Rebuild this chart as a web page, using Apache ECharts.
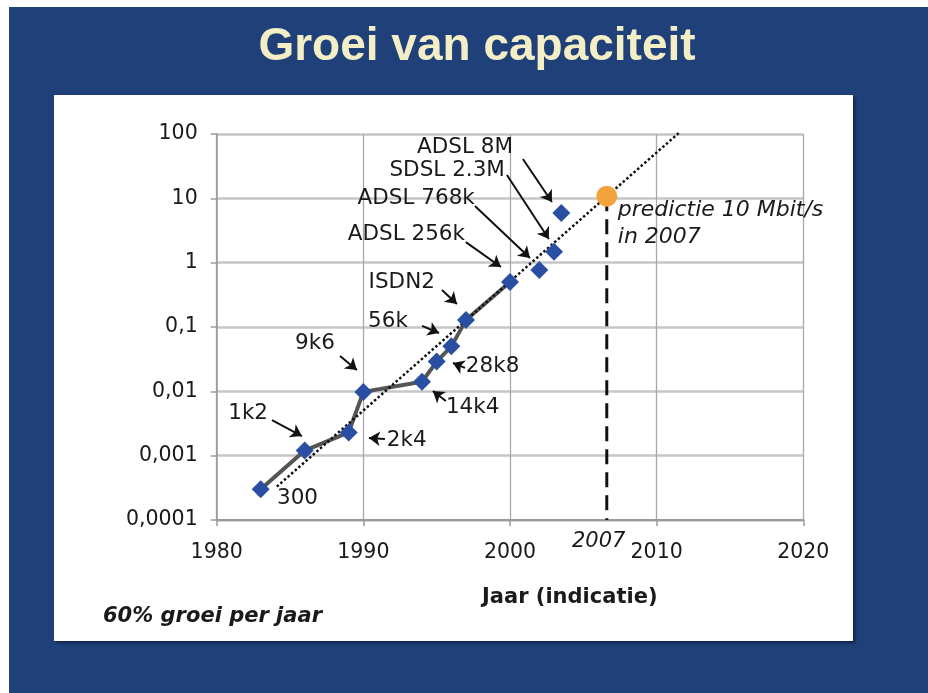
<!DOCTYPE html>
<html>
<head>
<meta charset="utf-8">
<script src="https://cdn.jsdelivr.net/npm/echarts@6/dist/echarts.min.js"></script>
<style>
  html, body { margin: 0; padding: 0; background: #fff; }
  #slide { position: absolute; left: 9px; top: 7px; width: 919px; height: 686px; background: #1f4079; }
  #panel { position: absolute; left: 54px; top: 95px; width: 799px; height: 546px; background: #fff;
           box-shadow: 2px 2px 3px rgba(0,0,0,0.45); }
  #chart { position: absolute; left: 0; top: 0; width: 928px; height: 693px; }
</style>
</head>
<body>
<div id="slide"></div>
<div id="panel"></div>
<div id="chart"></div>
<script>
// modemsnelheden in Mbit/s per jaar
const years  = [1983, 1986, 1989, 1990, 1994, 1995, 1996, 1997, 2000, 2002, 2003, 2003.5];
const speeds = [0.0003, 0.0012, 0.0023, 0.0098, 0.0141, 0.029, 0.05, 0.128, 0.5, 0.77, 1.48, 5.9];
const lastLinkedYear = 2000; // doorgetrokken lijn loopt tot hier

// 60% groei per jaar: begin- en eindpunt van de stippellijn
const trendYears  = [1984.1, 2011.6];
const trendSpeeds = [0.00033, 108];

const predictionYear  = 2006.6;
const predictionSpeed = 10.8;

const yTickLabels = ['0,0001', '0,001', '0,01', '0,1', '1', '10', '100'];

// tekstjes bij de punten: [jaar, snelheid, tekst, kant]
const notes = [
  [2000.2, 62.8, 'ADSL 8M', 'L'],
  [1999.65, 27.6, 'SDSL 2.3M', 'L'],
  [1997.6, 10.1, 'ADSL 768k', 'L'],
  [1996.93, 2.79, 'ADSL 256k', 'L'],
  [1994.88, 0.501, 'ISDN2', 'L'],
  [1993.04, 0.124, '56k', 'L'],
  [1988.06, 0.0564, '9k6', 'L'],
  [1996.99, 0.0248, '28k8', 'R'],
  [1995.63, 0.00571, '14k4', 'R'],
  [1991.6, 0.00175, '2k4', 'R'],
  [1983.5, 0.0046, '1k2', 'L'],
  [1984.11, 0.00022, '300', 'R']
];
const predictionNotes = [
  [2007.35, 6.59, 'predictie 10 Mbit/s'],
  [2007.35, 2.51, 'in 2007']
];

// pijltjes: [van jaar, van snelheid, naar jaar, naar snelheid]
const arrows = [
  [2000.88, 40.9, 2002.86, 8.77],
  [1999.79, 23.1, 2002.65, 2.33],
  [1997.61, 7.6, 2001.36, 1.18],
  [1996.99, 2.09, 1999.38, 0.857],
  [1995.36, 0.376, 1996.38, 0.228],
  [1994.0, 0.104, 1995.16, 0.0807],
  [1988.41, 0.0354, 1989.56, 0.0215],
  [1996.93, 0.0231, 1996.11, 0.0276],
  [1995.63, 0.00708, 1994.74, 0.0101],
  [1991.47, 0.00181, 1990.38, 0.00188],
  [1983.77, 0.00358, 1985.81, 0.00202]
];

const FONT = '"DejaVu Sans", sans-serif';
const INK = '#1a1a1a';

const points = years.map((y, i) => [y, speeds[i]]);
const linked = points.filter(p => p[0] <= lastLinkedYear);

const chart = echarts.init(document.getElementById('chart'), null, { renderer: 'canvas' });

const option = {
  backgroundColor: 'transparent',
  animation: false,
  grid: { left: 216.7, right: 124.7, top: 134, bottom: 173, outerBoundsMode: 'none' },
  xAxis: {
    type: 'value', min: 1980, max: 2020, interval: 10,
    axisLine: { show: true, lineStyle: { color: '#9a9a9a', width: 2 } },
    axisTick: { show: true, length: 6, lineStyle: { color: '#9a9a9a', width: 1.5 } },
    axisLabel: { margin: 22, color: INK, fontFamily: FONT, fontSize: 20.5, formatter: v => String(v) },
    splitLine: { show: true, lineStyle: { color: '#a8a8a8', width: 1.3 } }
  },
  yAxis: {
    type: 'log', logBase: 10, min: 0.0001, max: 100,
    axisLine: { show: true, lineStyle: { color: '#9a9a9a', width: 1.5 } },
    axisTick: { show: true, length: 6, lineStyle: { color: '#9a9a9a', width: 1.5 } },
    axisLabel: {
      margin: 19, color: INK, fontFamily: FONT, fontSize: 20.5,
      formatter: v => yTickLabels[Math.round(Math.log10(v)) + 4]
    },
    splitLine: { show: true, lineStyle: { color: '#c6c6c6', width: 2.5 } }
  },
  series: [
    {
      type: 'line', data: linked, symbol: 'none', silent: true, z: 2,
      lineStyle: { color: '#555', width: 4 }
    },
    {
      type: 'line', data: trendYears.map((y, i) => [y, trendSpeeds[i]]), symbol: 'none',
      silent: true, clip: false, z: 3,
      lineStyle: { color: '#111', width: 2.5, type: [2.5, 2.3] }
    },
    {
      type: 'line', data: [[predictionYear, predictionSpeed], [predictionYear, 0.0001]],
      symbol: 'none', silent: true, z: 3,
      lineStyle: { color: '#111', width: 3, type: [15, 8] }
    },
    {
      type: 'lines', coordinateSystem: 'cartesian2d', silent: true, z: 4,
      symbol: ['none', 'arrow'], symbolSize: 11,
      lineStyle: { color: '#111', width: 2, opacity: 1, curveness: 0 },
      data: arrows.map(a => ({ coords: [[a[0], a[1]], [a[2], a[3]]] }))
    },
    {
      type: 'scatter', data: points, symbol: 'diamond', symbolSize: 18, silent: true, z: 5,
      itemStyle: { color: '#2a4fa2', opacity: 1 }
    },
    {
      type: 'scatter', data: [[predictionYear, predictionSpeed]], symbol: 'circle', symbolSize: 21,
      silent: true, z: 5, itemStyle: { color: '#f2a33c', opacity: 1 }
    },
    {
      type: 'scatter', symbolSize: 0, silent: true, z: 6, itemStyle: { opacity: 1 },
      label: { show: true, distance: 0, color: INK, opacity: 1, fontFamily: FONT, fontSize: 21.5, formatter: p => p.name },
      data: notes.map(n => ({ name: n[2], value: [n[0], n[1]], label: { position: n[3] === 'L' ? 'left' : 'right' } }))
    },
    {
      type: 'scatter', symbolSize: 0, silent: true, z: 6, itemStyle: { opacity: 1 },
      label: { show: true, position: 'right', distance: 0, color: INK, opacity: 1, fontFamily: FONT,
               fontSize: 22, fontStyle: 'italic', formatter: p => p.name },
      data: predictionNotes.map(n => ({ name: n[2], value: [n[0], n[1]] }))
    }
  ],
  graphic: [
    {
      type: 'text', x: 477, y: 47,
      style: { text: 'Groei van capaciteit', fill: '#f3eec6', align: 'center', verticalAlign: 'middle',
               font: 'bold 46px "Liberation Sans", Arial, sans-serif' }
    },
    {
      type: 'text', x: 572, y: 542,
      style: { text: '2007', fill: INK, verticalAlign: 'middle', font: 'italic 21px ' + FONT }
    },
    {
      type: 'text', x: 482, y: 598,
      style: { text: 'Jaar (indicatie)', fill: INK, verticalAlign: 'middle', font: 'bold 21px ' + FONT }
    },
    {
      type: 'text', x: 103, y: 617,
      style: { text: '60% groei per jaar', fill: INK, verticalAlign: 'middle', font: 'italic bold 21px ' + FONT }
    }
  ]
};

chart.setOption(option);
</script>
</body>
</html>
